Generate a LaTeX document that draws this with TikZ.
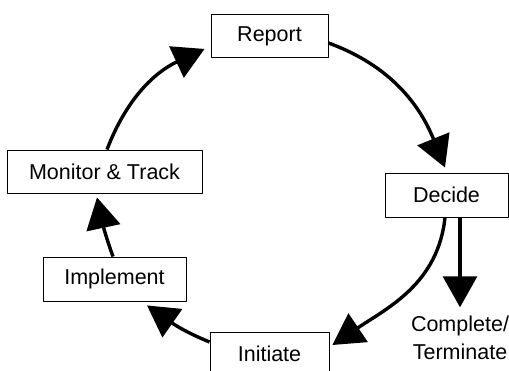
\documentclass[tikz,border=0pt]{standalone}
\usepackage{fontspec}
\setmainfont{Liberation Sans}
\usetikzlibrary{arrows.meta}
\begin{document}
\begin{tikzpicture}[x=1pt, y=1pt, line join=round, >={Triangle[length=31pt,width=34pt]},
	box/.style={draw, line width=0.9pt, minimum height=43pt, inner sep=0pt, font=\fontsize{21.5}{28}\selectfont},
	flow/.style={->, line width=3.4pt}]
				\useasboundingbox (0,0) rectangle (509,371);
				\node[box, minimum width=117pt] (report) at (269.5,335) {Report};
				\node[box, minimum width=123pt, minimum height=44pt] (decide) at (446.5,176) {Decide};
				\node[box, minimum width=119pt, minimum height=44pt] (initiate) at (269.5,17) {Initiate};
				\node[box, minimum width=143pt, minimum height=44pt] (implement) at (114.5,92) {Implement};
				\node[box, minimum width=195pt] (monitor) at (104.5,199.5) {Monitor \& Track};
				\node[align=center, inner sep=0pt, font=\fontsize{21.5}{28}\selectfont] (done) at (460,33.6) {Complete/\\Terminate};
				\draw[flow] ([yshift=-7pt]report.east) to[out=-20, in=112] ([xshift=-1.5pt,yshift=5pt]decide.north);
				\draw[flow] ([xshift=-1.5pt]decide.south) to[out=-96, in=34] ([xshift=3pt,yshift=9pt]initiate.east);
				\draw[flow] ([yshift=12pt]initiate.west) to[out=158, in=-35] ([xshift=32.5pt,yshift=-4pt]implement.south);
				\draw[flow] ([xshift=-1.5pt]implement.north) to[out=110, in=-78] ([xshift=-7.5pt,yshift=-4pt]monitor.south);
				\draw[flow] ([xshift=2.5pt]monitor.north) to[out=69, in=205] ([xshift=-6pt,yshift=9pt]report.south west);
				\draw[flow] (decide.south -| done.north) -- ([yshift=8pt]done.north);
			\end{tikzpicture}
\end{document}
